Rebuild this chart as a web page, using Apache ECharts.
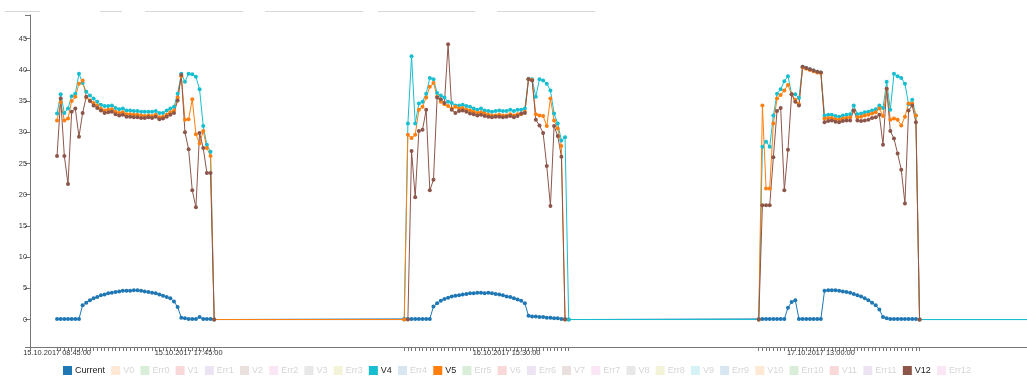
<!DOCTYPE html>
<html>
<head>
<meta charset="utf-8">
<style>
  html, body { margin: 0; padding: 0; background: #fff; }
  #chart { width: 1027px; height: 376px; }
</style>
<script src="https://cdn.jsdelivr.net/npm/echarts@6/dist/echarts.min.js"></script>
</head>
<body>
<div id="chart"></div>
<script>
// Measurement sessions: one reading every 15 minutes
const sessions = [
  { start: '2017-10-15T08:45:00Z', count: 44 },
  { start: '2017-10-16T08:30:00Z', count: 46 },
  { start: '2017-10-17T08:45:00Z', count: 45 },
  { start: '2017-10-18T08:45:00Z', count: 1 }
];
const stepMinutes = 15;

// Labelled positions on the time axis
const tickLabelTimes = [
  '2017-10-15T08:45:00Z',
  '2017-10-15T17:45:00Z',
  '2017-10-16T15:30:00Z',
  '2017-10-17T13:00:00Z'
];
const yTickValues = [0, 5, 10, 15, 20, 25, 30, 35, 40, 45];
const xRange = ['2017-10-15T06:54:00Z', '2017-10-18T03:06:00Z'];
const yRange = [-4.4, 48.8];

// Current
const current1 = [0.1,0.1,0.1,0.1,0.1,0.1,0.1,2.3,2.7,3.1,3.4,3.6,3.9,4.0,4.2,4.3,4.4,4.5,4.6,4.6,4.6,4.7,4.7,4.6,4.5,4.4,4.3,4.2,4.0,3.8,3.6,3.4,2.9,2.0,0.3,0.2,0.1,0.1,0.1,0.4,0.1,0.1,0.1,0];
const current2 = [0.1,0.1,0.1,0.1,0.1,0.1,0.1,0.1,2.1,2.6,3.0,3.3,3.5,3.7,3.8,3.9,4.0,4.1,4.2,4.2,4.3,4.3,4.2,4.3,4.2,4.1,4.0,3.9,3.7,3.6,3.4,3.2,3.0,2.6,0.6,0.5,0.5,0.4,0.4,0.3,0.3,0.2,0.2,0.1,0.1,0];
const current3 = [0.1,0.1,0.1,0.1,0.1,0.1,0.1,0.1,1.9,2.8,3.1,0.1,0.1,0.1,0.1,0.1,0.1,0.1,4.6,4.7,4.7,4.7,4.6,4.5,4.4,4.3,4.1,3.9,3.7,3.4,3.1,2.7,2.3,1.6,0.4,0.2,0.1,0.1,0.1,0.1,0.1,0.1,0.1,0.1,0];
const current4 = [0];

// V4
const v4a = [33.0,36.1,33.1,33.8,35.8,36.2,39.4,37.9,36.5,35.9,35.4,34.9,34.4,34.2,34.2,34.3,33.9,33.7,33.8,33.5,33.5,33.4,33.4,33.3,33.3,33.3,33.3,33.4,33.1,33.1,33.5,33.8,34.1,36.2,39.4,38.1,39.4,39.3,38.9,36.9,31.0,28.0,26.9,0];
const v4b = [0,31.4,42.2,31.4,34.6,34.9,36.2,38.7,38.5,36.3,35.9,35.6,34.9,34.7,34.3,34.3,34.4,34.2,34.1,33.8,33.6,33.8,33.5,33.4,33.3,33.4,33.5,33.4,33.4,33.6,33.4,33.6,33.6,33.8,38.6,38.5,35.7,38.5,38.3,37.8,36.7,33.0,31.4,28.7,29.2,0];
const v4c = [0,27.7,28.5,27.7,32.7,36.2,36.9,38.2,39.0,36.1,36.1,35.5,40.5,40.3,40.1,39.9,39.7,39.6,32.7,32.8,32.8,32.6,32.5,32.7,32.8,32.9,34.3,32.9,33.0,33.2,33.3,33.5,33.7,34.3,33.9,38.1,33.6,39.4,39.0,38.7,37.8,34.5,35.2,32.7,0];
const v4d = [0];

// V5
const v5a = [31.9,34.8,31.9,32.2,35.0,35.7,37.8,38.3,35.6,35.1,34.7,34.3,33.8,33.5,33.6,33.7,33.3,33.1,33.2,32.9,32.9,32.8,32.8,32.7,32.6,32.7,32.6,32.8,32.4,32.5,32.8,33.2,33.5,35.6,39.0,32.0,32.1,35.3,29.7,28.2,30.2,27.5,26.2,0];
const v5b = [0,29.6,29.1,29.6,33.6,34.1,35.6,37.3,37.9,35.7,34.9,34.5,34.2,33.8,34.1,33.8,33.9,33.6,33.5,33.3,33.1,33.2,33.0,32.8,32.7,32.7,32.8,32.7,32.7,32.9,32.7,32.9,32.9,33.3,38.5,38.4,32.9,32.7,32.6,31.0,35.4,31.9,30.6,27.8,0,null];
const v5c = [0,34.3,21.0,21.0,31.4,35.4,36.0,36.7,37.6,36.1,35.2,34.5,40.4,40.2,40.0,39.8,39.6,39.5,32.2,32.3,32.3,32.1,32.0,32.2,32.3,32.4,33.5,32.4,32.5,32.7,32.8,33.0,33.2,33.8,32.6,37.0,32.0,32.2,32.0,31.1,32.5,34.6,34.6,32.7,0];
const v5d = [null];

// V12
const v12a = [26.2,35.4,26.2,21.7,33.3,33.8,29.3,33.1,35.7,35.0,34.3,33.9,33.5,33.1,33.2,33.3,32.9,32.7,32.8,32.5,32.5,32.4,32.4,32.3,32.3,32.4,32.3,32.5,32.1,32.2,32.5,32.8,33.1,35.1,39.2,30.0,27.3,20.7,18.0,29.9,27.5,23.5,23.5,0];
const v12b = [null,0,27.0,19.6,30.2,30.4,33.6,20.7,22.4,35.6,35.3,34.7,44.1,33.6,33.1,33.4,33.5,33.3,33.0,32.9,32.7,32.8,32.6,32.5,32.4,32.5,32.5,32.4,32.5,32.6,32.4,32.6,33.0,33.1,38.5,38.3,32.0,31.1,29.9,24.6,18.2,31.0,29.4,26.1,0,null];
const v12c = [0,18.3,18.3,18.3,26.0,33.4,33.9,20.7,27.2,36.1,34.9,34.3,40.5,40.3,40.1,39.9,39.7,39.6,31.6,31.8,31.9,31.7,31.6,31.8,31.9,31.9,33.5,31.9,31.8,31.9,32.0,32.3,32.4,32.8,28.0,37.0,30.2,29.0,26.6,24.0,18.6,33.5,34.3,31.6,0];
const v12d = [null];

const seriesNames = ['Current','V0','Err0','V1','Err1','V2','Err2','V3','Err3','V4','Err4','V5','Err5',
  'V6','Err6','V7','Err7','V8','Err8','V9','Err9','V10','Err10','V11','Err11','V12','Err12'];
const palette = ['#1f77b4','#ff7f0e','#2ca02c','#d62728','#9467bd','#8c564b','#e377c2','#7f7f7f','#bcbd22','#17becf'];
const seriesValues = {
  'Current': current1.concat(current2, current3, current4),
  'V4': v4a.concat(v4b, v4c, v4d),
  'V5': v5a.concat(v5b, v5c, v5d),
  'V12': v12a.concat(v12b, v12c, v12d)
};

// Timestamps of every reading
const times = [];
sessions.forEach(s => {
  const t0 = Date.parse(s.start);
  for (let i = 0; i < s.count; i++) times.push(t0 + i * stepMinutes * 60000);
});

function pad(n) { return (n < 10 ? '0' : '') + n; }
function formatTime(ms) {
  const d = new Date(ms);
  return pad(d.getUTCDate()) + '.' + pad(d.getUTCMonth() + 1) + '.' + d.getUTCFullYear() + ' ' +
    pad(d.getUTCHours()) + ':' + pad(d.getUTCMinutes()) + ':' + pad(d.getUTCSeconds());
}

const xMin = Date.parse(xRange[0]);
const xMax = Date.parse(xRange[1]);
const font = "'Liberation Sans', Arial, sans-serif";

const series = seriesNames.map((name, idx) => {
  const color = palette[idx % palette.length];
  const vals = seriesValues[name];
  return {
    name: name,
    type: 'line',
    color: color,
    data: vals ? vals.map((v, i) => [times[i], v]) : [],
    symbol: 'circle',
    symbolSize: 4,
    showSymbol: true,
    clip: true,
    lineStyle: { width: 1, color: color },
    itemStyle: { color: color },
    emphasis: { disabled: true },
    animation: false
  };
});

const legendData = seriesNames.map(name => {
  if (seriesValues[name]) return { name: name };
  return {
    name: name,
    itemStyle: { opacity: 0.18 },
    textStyle: { color: 'rgba(0,0,0,0.18)' }
  };
});

const chart = echarts.init(document.getElementById('chart'), null, { renderer: 'canvas' });
chart.setOption({
  animation: false,
  grid: { left: 30, right: 0, top: 15, bottom: 29 },
  legend: {
    data: legendData,
    left: 63,
    top: 366,
    icon: 'rect',
    itemWidth: 9,
    itemHeight: 9,
    itemGap: 6.2,
    padding: 0,
    selectedMode: false,
    textStyle: { fontFamily: font, fontSize: 9, color: '#222', padding: [0, 0, 0, -2] }
  },
  xAxis: {
    type: 'value',
    min: xMin,
    max: xMax,
    splitLine: { show: false },
    axisLine: { onZero: false, lineStyle: { color: '#777', width: 1 } },
    axisTick: {
      show: true,
      length: 4,
      customValues: [xMin].concat(times.filter(t => t <= xMax)),
      lineStyle: { color: '#777', width: 1 }
    },
    axisLabel: {
      customValues: tickLabelTimes.map(t => Date.parse(t)),
      formatter: v => formatTime(v),
      fontFamily: font,
      fontSize: 7.4,
      color: '#333',
      margin: 2
    }
  },
  yAxis: {
    type: 'value',
    min: yRange[0],
    max: yRange[1],
    splitLine: { show: false },
    axisLine: { show: true, lineStyle: { color: '#777', width: 1 } },
    axisTick: {
      show: true,
      length: 5,
      customValues: [yRange[0]].concat(yTickValues, [yRange[1]]),
      lineStyle: { color: '#777', width: 1 }
    },
    axisLabel: {
      customValues: yTickValues,
      fontFamily: font,
      fontSize: 7.4,
      color: '#333',
      margin: 3
    }
  },
  graphic: [
    [5, 40], [100, 122], [145, 243], [265, 363], [378, 475], [497, 595]
  ].map(seg => ({
    type: 'line',
    shape: { x1: seg[0], y1: 11.5, x2: seg[1], y2: 11.5 },
    style: { stroke: '#d8d8d8', lineWidth: 1 },
    silent: true
  })),
  series: series
});
</script>
</body>
</html>
